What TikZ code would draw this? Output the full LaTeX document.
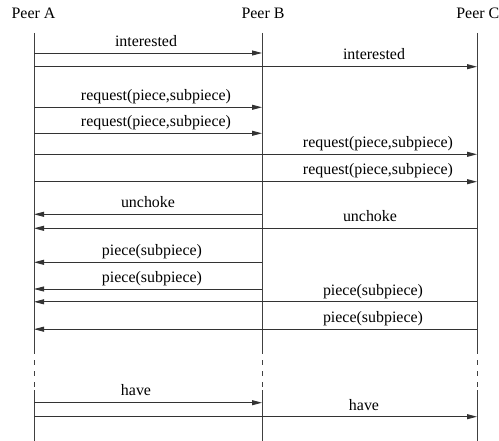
\documentclass[tikz,border=0pt]{standalone}
\usepackage{fontspec}
\setmainfont{Liberation Serif}
\usetikzlibrary{arrows.meta}
\begin{document}
\begin{tikzpicture}[x=1bp,y=-1bp,
  life/.style={line width=0.9bp,black!75},
  msg/.style={line width=0.9bp,black!80,-{Triangle[length=10bp,width=5bp]}},
  lbl/.style={anchor=base,inner sep=0pt,font=\fontsize{16}{19}\selectfont},
  peer/.style={anchor=base,inner sep=0pt,font=\fontsize{16}{19}\selectfont}]
\useasboundingbox (0,0) rectangle (499,441);
% peers
\node[peer] (pA) at (33.5,19) {Peer A};
\node[peer] (pB) at (263,19) {Peer B};
\node[peer,anchor=base east] (pC) at (499.5,19) {Peer C};
% lifelines
\foreach \p/\x in {A/34,B/262,C/477}{
  \coordinate (\p top) at (\x,33);
  \coordinate (\p d1) at (\x,353);
  \coordinate (\p d2) at (\x,390);
  \coordinate (\p bot) at (\x,441);
  \draw[life] (\p top) -- (\p d1);
  \draw[life,dash pattern=on 5bp off 6bp,dash phase=-7bp] (\p d1) -- (\p d2);
  \draw[life] (\p d2) -- (\p bot);
}
% message end points
\foreach \n/\y in {1/53,2/66.7,3/107.3,4/133.3,5/154.3,6/181.7,7/214.3,8/228.3,9/262.3,10/289,11/301.8,12/329.2,13/402.7,14/416.7}{
  \coordinate (A\n) at (34,\y);
  \coordinate (B\n) at (262,\y);
  \coordinate (C\n) at (477,\y);
}
% messages
\draw[msg] (A1) -- (B1);
\node[lbl] (l1) at (146,47) {interested};
\draw[msg] (A2) -- (C2);
\node[lbl] (l2) at (374,59.5) {interested};
\draw[msg] (A3) -- (B3);
\node[lbl] (l3) at (156,100.7) {request(piece,subpiece)};
\draw[msg] (A4) -- (B4);
\node[lbl] (l4) at (156,127) {request(piece,subpiece)};
\draw[msg] (A5) -- (C5);
\node[lbl] (l5) at (378,148) {request(piece,subpiece)};
\draw[msg] (A6) -- (C6);
\node[lbl] (l6) at (378,175) {request(piece,subpiece)};
\draw[msg] (B7) -- (A7);
\node[lbl] (l7) at (148,207.3) {unchoke};
\draw[msg] (C8) -- (A8);
\node[lbl] (l8) at (370,221.7) {unchoke};
\draw[msg] (B9) -- (A9);
\node[lbl] (l9) at (152,255.7) {piece(subpiece)};
\draw[msg] (B10) -- (A10);
\node[lbl] (l10) at (152,282.5) {piece(subpiece)};
\draw[msg] (C11) -- (A11);
\node[lbl] (l11) at (373,295.3) {piece(subpiece)};
\draw[msg] (C12) -- (A12);
\node[lbl] (l12) at (373,322) {piece(subpiece)};
\draw[msg] (A13) -- (B13);
\node[lbl] (l13) at (136,395.5) {have};
\draw[msg] (A14) -- (C14);
\node[lbl] (l14) at (364,410) {have};
\end{tikzpicture}
\end{document}
